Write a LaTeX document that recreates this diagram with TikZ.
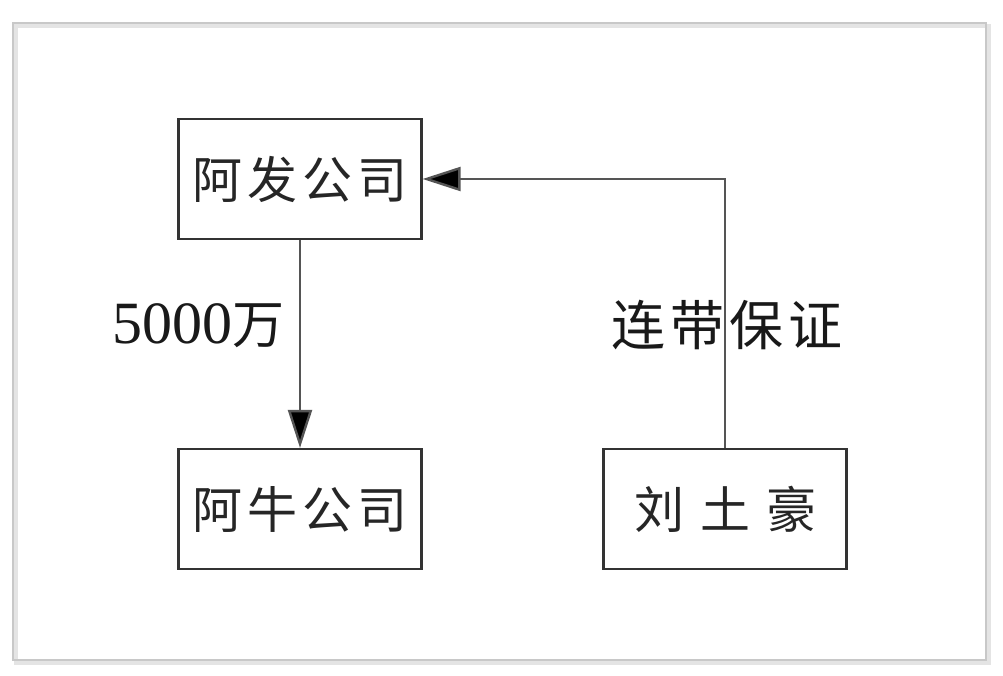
\documentclass[tikz,border=0pt]{standalone}
\usepackage{fontspec}
\setmainfont{Liberation Serif}
\newfontfamily\cjk{Noto Sans CJK SC}
\usetikzlibrary{arrows.meta}
\definecolor{framegray}{HTML}{C8C8C8}
\definecolor{shadowgray}{HTML}{E4E4E4}
\definecolor{boxedge}{HTML}{333333}
\definecolor{linegray}{HTML}{555555}
\newcommand{\gp}{\hspace{5pt}}
\tikzset{
  entity/.style={draw=boxedge, line width=2.2pt, minimum width=243pt, minimum height=120pt, inner sep=0pt, font=\cjk\fontsize{50}{56}\selectfont, text=black!85},
  conn/.style={draw=linegray, line width=2.4pt, -{Triangle[length=38pt,width=24pt,fill=black]}},
  lbl/.style={inner sep=0pt, text=black!90}
}
\begin{document}
\begin{tikzpicture}[x=1pt,y=-1pt]
\useasboundingbox (0,0) rectangle (1003,676);
\fill[white] (0,0) rectangle (1003,676);
% frame with soft shadow
\draw[shadowgray, line width=4pt] (16,26) rectangle (989,663);
\draw[framegray, line width=2pt] (13,23) rectangle (986,660);
\node[entity] (afa) at (300,179) {阿\gp 发\gp 公\gp 司};
\node[entity] (aniu) at (300,509) {阿\gp 牛\gp 公\gp 司};
\node[entity] (liu) at (725,509) {刘\hspace{16pt}土\hspace{16pt}豪};
\coordinate (corner) at (liu.north |- afa.east);
\draw[conn] (afa.south) -- (aniu.north);
\draw[conn] (liu.north) -- (corner) -- (afa.east);
\node[lbl, anchor=base west] (amt) at (112,343) {\fontsize{60}{64}\selectfont 5000{\cjk\fontsize{52}{56}\selectfont 万}};
\node[lbl, font=\cjk\fontsize{54}{60}\selectfont] (guar) at (727,325) {连\gp 带\gp 保\gp 证};
\end{tikzpicture}
\end{document}
